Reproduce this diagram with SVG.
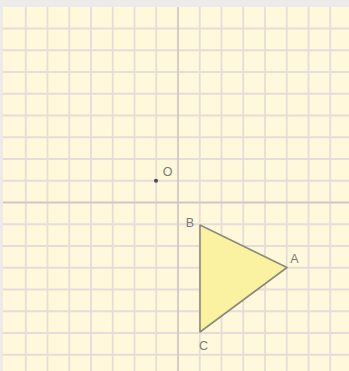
<svg xmlns="http://www.w3.org/2000/svg" width="349" height="371" viewBox="0 0 349 371">
<style>
.grid line{stroke:#E6DCDA;stroke-width:1.8}
.axis{stroke:#D0C8C8;stroke-width:1.8}
.lbl{font-family:"Liberation Sans",Arial,sans-serif;font-size:12.5px;fill:#7a7a7a;text-anchor:middle}
.tri{fill:#FAF2A0;stroke:#8C8A7C;stroke-width:1.6;stroke-linejoin:round}
</style>
<rect x="0" y="0" width="349" height="371" fill="#ECEBEA"/>
<rect x="3" y="7" width="346" height="364" fill="#FFF8DA"/>
<g class="grid">
<line x1="25.75" y1="7" x2="25.75" y2="371"/>
<line x1="47.5" y1="7" x2="47.5" y2="371"/>
<line x1="69.25" y1="7" x2="69.25" y2="371"/>
<line x1="91" y1="7" x2="91" y2="371"/>
<line x1="112.75" y1="7" x2="112.75" y2="371"/>
<line x1="134.5" y1="7" x2="134.5" y2="371"/>
<line x1="156.25" y1="7" x2="156.25" y2="371"/>
<line x1="199.75" y1="7" x2="199.75" y2="371"/>
<line x1="221.5" y1="7" x2="221.5" y2="371"/>
<line x1="243.25" y1="7" x2="243.25" y2="371"/>
<line x1="265" y1="7" x2="265" y2="371"/>
<line x1="286.75" y1="7" x2="286.75" y2="371"/>
<line x1="308.5" y1="7" x2="308.5" y2="371"/>
<line x1="330.25" y1="7" x2="330.25" y2="371"/>
<line x1="3" y1="28.5" x2="349" y2="28.5"/>
<line x1="3" y1="50.25" x2="349" y2="50.25"/>
<line x1="3" y1="72" x2="349" y2="72"/>
<line x1="3" y1="93.75" x2="349" y2="93.75"/>
<line x1="3" y1="115.5" x2="349" y2="115.5"/>
<line x1="3" y1="137.25" x2="349" y2="137.25"/>
<line x1="3" y1="159" x2="349" y2="159"/>
<line x1="3" y1="180.75" x2="349" y2="180.75"/>
<line x1="3" y1="224.25" x2="349" y2="224.25"/>
<line x1="3" y1="246" x2="349" y2="246"/>
<line x1="3" y1="267.75" x2="349" y2="267.75"/>
<line x1="3" y1="289.5" x2="349" y2="289.5"/>
<line x1="3" y1="311.25" x2="349" y2="311.25"/>
<line x1="3" y1="333" x2="349" y2="333"/>
<line x1="3" y1="354.75" x2="349" y2="354.75"/>
</g>
<g id="axes">
<line class="axis" x1="178" y1="7" x2="178" y2="371"/>
<line class="axis" x1="3" y1="202.5" x2="349" y2="202.5"/>
</g>
<g id="point-O">
<circle cx="156" cy="180.75" r="2" fill="#4a4a4a"/>
<text class="lbl" x="167.5" y="175.5">O</text>
</g>
<g id="triangle-ABC">
<polygon class="tri" points="200,225 287,267.5 200,332"/>
</g>
<g id="label-A"><text class="lbl" x="294.5" y="263">A</text></g>
<g id="label-B"><text class="lbl" x="190" y="227">B</text></g>
<g id="label-C"><text class="lbl" x="203.5" y="350">C</text></g>
</svg>
